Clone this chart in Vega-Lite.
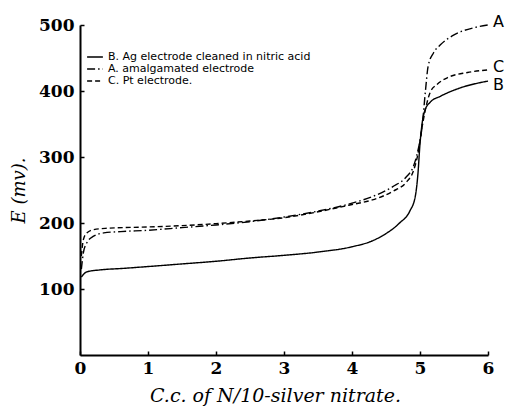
{
  "$schema": "https://vega.github.io/schema/vega-lite/v6.json",
  "width": 408,
  "height": 330,
  "autosize": {"type": "none"},
  "padding": {"left": 80, "top": 25, "right": 20, "bottom": 55},
  "background": "white",
  "config": {
    "view": {"stroke": null},
    "font": "DejaVu Serif"
  },
  "data": {
    "values": [
      {"electrode": "B", "x": 0.02, "E": 118},
      {"electrode": "B", "x": 0.05, "E": 122},
      {"electrode": "B", "x": 0.1, "E": 126},
      {"electrode": "B", "x": 0.3, "E": 129},
      {"electrode": "B", "x": 0.6, "E": 131},
      {"electrode": "B", "x": 1.0, "E": 134},
      {"electrode": "B", "x": 1.5, "E": 138},
      {"electrode": "B", "x": 2.0, "E": 142},
      {"electrode": "B", "x": 2.5, "E": 147},
      {"electrode": "B", "x": 3.0, "E": 151},
      {"electrode": "B", "x": 3.5, "E": 156},
      {"electrode": "B", "x": 4.0, "E": 164},
      {"electrode": "B", "x": 4.3, "E": 173},
      {"electrode": "B", "x": 4.5, "E": 184},
      {"electrode": "B", "x": 4.7, "E": 200},
      {"electrode": "B", "x": 4.85, "E": 218},
      {"electrode": "B", "x": 4.93, "E": 240},
      {"electrode": "B", "x": 4.97, "E": 275},
      {"electrode": "B", "x": 5.0, "E": 320},
      {"electrode": "B", "x": 5.03, "E": 350},
      {"electrode": "B", "x": 5.07, "E": 370},
      {"electrode": "B", "x": 5.15, "E": 383},
      {"electrode": "B", "x": 5.3, "E": 392},
      {"electrode": "B", "x": 5.6, "E": 405},
      {"electrode": "B", "x": 5.9, "E": 413},
      {"electrode": "B", "x": 6.0, "E": 415},
      {"electrode": "A", "x": 0.02, "E": 130},
      {"electrode": "A", "x": 0.05, "E": 155},
      {"electrode": "A", "x": 0.1, "E": 170},
      {"electrode": "A", "x": 0.2, "E": 180},
      {"electrode": "A", "x": 0.35, "E": 185},
      {"electrode": "A", "x": 0.6, "E": 187},
      {"electrode": "A", "x": 1.0, "E": 189},
      {"electrode": "A", "x": 1.5, "E": 193},
      {"electrode": "A", "x": 2.0, "E": 197},
      {"electrode": "A", "x": 2.5, "E": 202},
      {"electrode": "A", "x": 3.0, "E": 209},
      {"electrode": "A", "x": 3.5, "E": 218},
      {"electrode": "A", "x": 4.0, "E": 230},
      {"electrode": "A", "x": 4.3, "E": 240},
      {"electrode": "A", "x": 4.6, "E": 255},
      {"electrode": "A", "x": 4.8, "E": 270},
      {"electrode": "A", "x": 4.9, "E": 285},
      {"electrode": "A", "x": 4.97, "E": 310},
      {"electrode": "A", "x": 5.03, "E": 345},
      {"electrode": "A", "x": 5.08, "E": 400},
      {"electrode": "A", "x": 5.12, "E": 438},
      {"electrode": "A", "x": 5.2, "E": 458},
      {"electrode": "A", "x": 5.3, "E": 470},
      {"electrode": "A", "x": 5.5, "E": 485},
      {"electrode": "A", "x": 5.8, "E": 496},
      {"electrode": "A", "x": 6.0, "E": 500},
      {"electrode": "C", "x": 0.02, "E": 150},
      {"electrode": "C", "x": 0.05, "E": 175},
      {"electrode": "C", "x": 0.1, "E": 185},
      {"electrode": "C", "x": 0.2, "E": 190},
      {"electrode": "C", "x": 0.4, "E": 192},
      {"electrode": "C", "x": 1.0, "E": 194},
      {"electrode": "C", "x": 1.5, "E": 196},
      {"electrode": "C", "x": 2.0, "E": 199},
      {"electrode": "C", "x": 2.5, "E": 203},
      {"electrode": "C", "x": 3.0, "E": 208},
      {"electrode": "C", "x": 3.5, "E": 217},
      {"electrode": "C", "x": 4.0, "E": 228},
      {"electrode": "C", "x": 4.3, "E": 235},
      {"electrode": "C", "x": 4.6, "E": 248},
      {"electrode": "C", "x": 4.8, "E": 262},
      {"electrode": "C", "x": 4.9, "E": 278},
      {"electrode": "C", "x": 4.97, "E": 305},
      {"electrode": "C", "x": 5.03, "E": 345},
      {"electrode": "C", "x": 5.08, "E": 372},
      {"electrode": "C", "x": 5.15, "E": 398},
      {"electrode": "C", "x": 5.25, "E": 410},
      {"electrode": "C", "x": 5.4, "E": 420},
      {"electrode": "C", "x": 5.7, "E": 428},
      {"electrode": "C", "x": 6.0, "E": 432}
    ]
  },
  "layer": [
    {
      "mark": {"type": "line", "interpolate": "monotone", "color": "black", "strokeWidth": 1.4},
      "encoding": {
        "x": {
          "field": "x", "type": "quantitative",
          "scale": {"domain": [0, 6], "nice": false, "zero": false},
          "axis": {
            "title": "C.c. of N/10-silver nitrate.",
            "titleFont": "DejaVu Serif", "titleFontStyle": "italic", "titleFontWeight": "normal",
            "titleFontSize": 19, "titleColor": "black", "titlePadding": 10,
            "titleX": 195,
            "values": [0, 1, 2, 3, 4, 5, 6], "format": "d",
            "labelFont": "DejaVu Serif", "labelFontWeight": "bold", "labelFontSize": 17,
            "labelColor": "black", "labelPadding": 9, "labelFlush": false,
            "grid": false, "domainColor": "black", "domainWidth": 2,
            "tickColor": "black", "tickSize": -4, "tickWidth": 1.5
          }
        },
        "y": {
          "field": "E", "type": "quantitative",
          "scale": {"domain": [0, 500], "nice": false},
          "axis": {
            "title": "E (mv).",
            "titleFont": "DejaVu Serif", "titleFontStyle": "italic", "titleFontWeight": "normal",
            "titleFontSize": 18, "titleColor": "black", "titlePadding": 10,
            "values": [100, 200, 300, 400, 500],
            "labelFont": "DejaVu Serif", "labelFontWeight": "bold", "labelFontSize": 17,
            "labelColor": "black", "labelPadding": 10,
            "grid": false, "domainColor": "black", "domainWidth": 2,
            "tickColor": "black", "tickSize": -4, "tickWidth": 1.5
          }
        },
        "detail": {"field": "electrode"},
        "strokeDash": {
          "field": "electrode", "type": "nominal",
          "scale": {"domain": ["B", "A", "C"], "range": [[1, 0], [8, 3, 1.5, 3], [5, 3]]},
          "legend": {
            "orient": "none", "legendX": 6, "legendY": 26,
            "title": null,
            "symbolType": "stroke", "symbolSize": 250, "symbolStrokeWidth": 1.3,
            "symbolStrokeColor": "black",
            "labelExpr": "datum.label == 'B' ? 'B. Ag electrode cleaned in nitric acid' : datum.label == 'A' ? 'A. amalgamated electrode' : 'C. Pt electrode.'",
            "labelFont": "DejaVu Sans", "labelFontSize": 11, "labelColor": "black",
            "labelLimit": 0, "clipHeight": 12,
            "rowPadding": 0, "labelOffset": 4
          }
        }
      }
    },
    {
      "transform": [{"filter": "datum.x == 6 && datum.electrode != 'B'"}],
      "mark": {"type": "text", "align": "left", "baseline": "middle", "dx": 5, "dy": -3, "fontSize": 16, "font": "DejaVu Sans", "color": "black"},
      "encoding": {
        "x": {"field": "x", "type": "quantitative"},
        "y": {"field": "E", "type": "quantitative"},
        "text": {"field": "electrode"}
      }
    },
    {
      "transform": [{"filter": "datum.x == 6 && datum.electrode == 'B'"}],
      "mark": {"type": "text", "align": "left", "baseline": "middle", "dx": 5, "dy": 4, "fontSize": 16, "font": "DejaVu Sans", "color": "black"},
      "encoding": {
        "x": {"field": "x", "type": "quantitative"},
        "y": {"field": "E", "type": "quantitative"},
        "text": {"field": "electrode"}
      }
    }
  ]
}
